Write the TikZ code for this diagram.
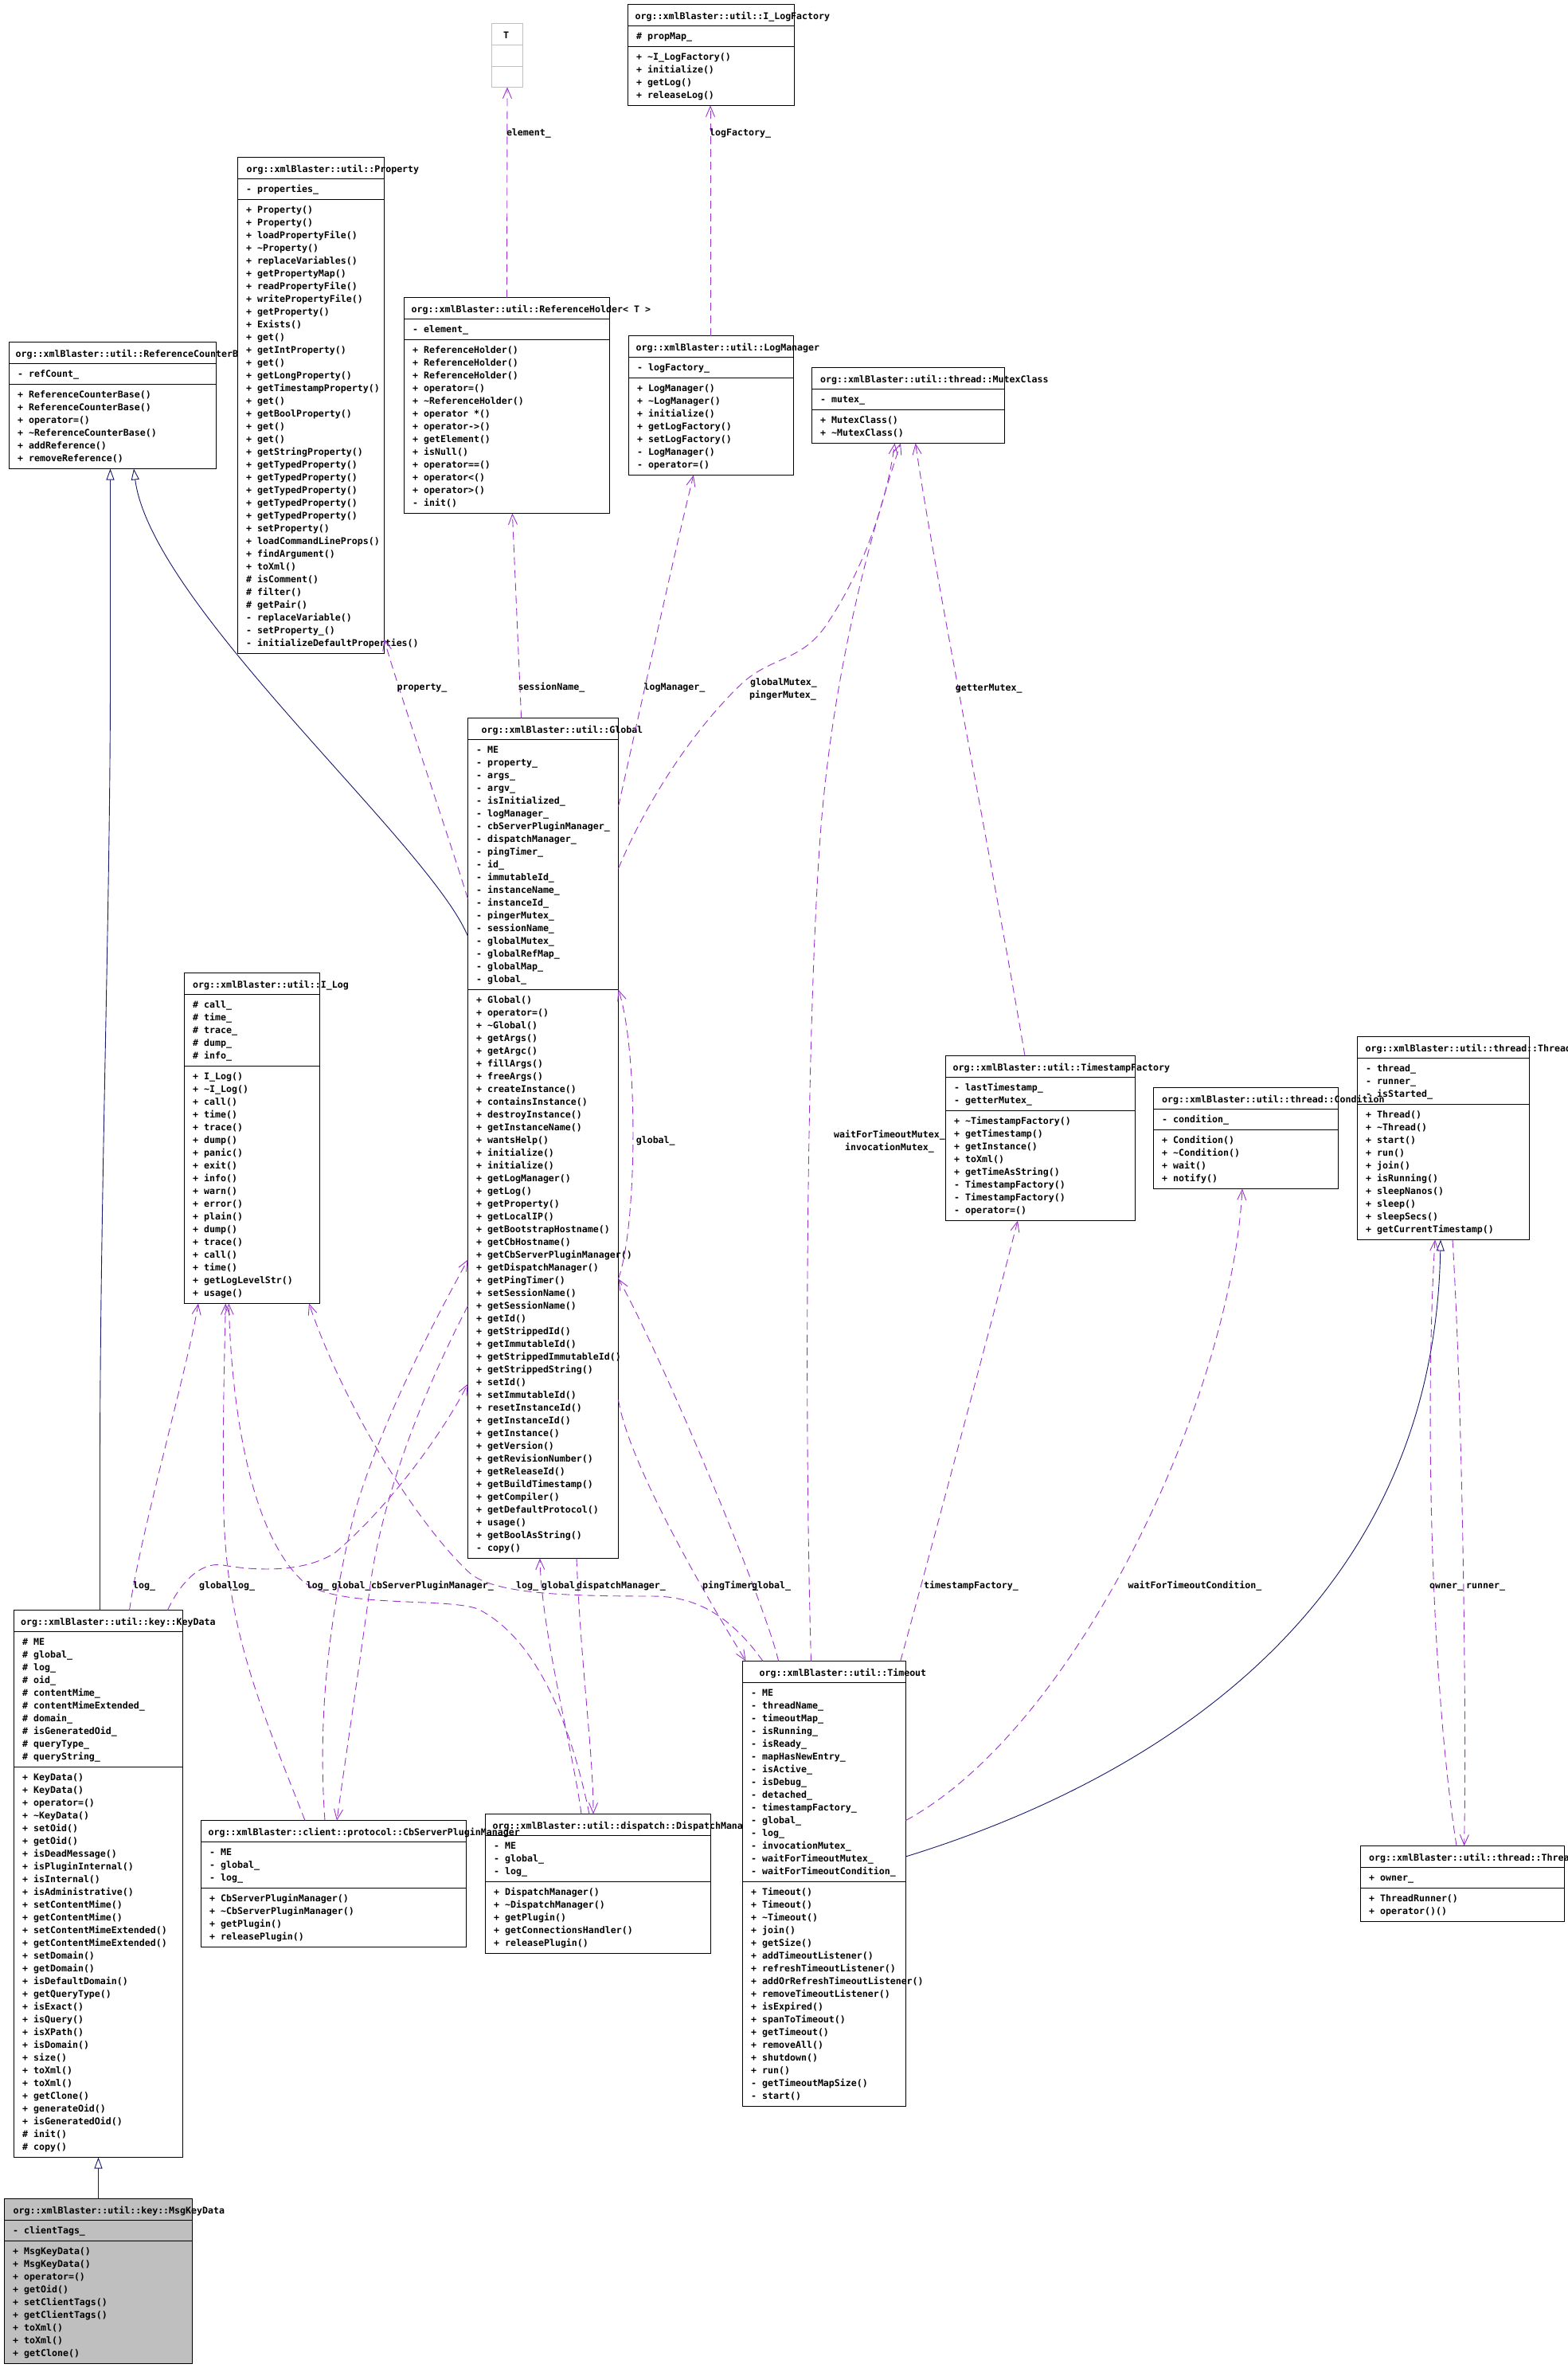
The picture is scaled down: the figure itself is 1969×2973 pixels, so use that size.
\documentclass[tikz,border=0pt]{standalone}
\usepackage{fontspec}
\newfontfamily\umlfont{DejaVu Sans Mono}
\usetikzlibrary{arrows.meta,calc}

\definecolor{edgepurple}{HTML}{9A32CD}
\definecolor{edgenavy}{HTML}{191970}
\definecolor{boxgray}{HTML}{BFBFBF}

\tikzset{
  umlbox/.style={draw=black, line width=1pt, anchor=north west, inner sep=0pt, outer sep=0pt},
  umlrule/.style={draw=black, line width=1pt},
  umltext/.style={font=\umlfont\bfseries\fontsize{11.6}{16}\selectfont, anchor=base west, inner sep=0pt},
  lbl/.style={umltext},
  dep/.style={draw=edgepurple, line width=0.9pt, dash pattern=on 10pt off 6pt,
    -{Straight Barb[length=13pt,width=11pt]}},
  inherit/.style={draw=edgenavy, line width=0.9pt, -{Triangle[fill=white,length=14pt,width=10pt]}}
}

\newcommand{\umlclass}[8][white]{%
  \foreach \m [count=\k] in {#7} {\xdef\nattr{\k}}%
  \foreach \m [count=\k] in {#8} {\xdef\nmeth{\k}}%
  \pgfmathsetmacro{\hattr}{16*\nattr+10}%
  \pgfmathsetmacro{\hmeth}{16*\nmeth+10}%
  \node[umlbox, fill=#1, minimum width=#4, minimum height=27+\hattr+\hmeth] (#2) at #3 {};
  \draw[umlrule] ($(#2.north west)+(0,27)$) -- ($(#2.north east)+(0,27)$);
  \draw[umlrule] ($(#2.north west)+(0,27+\hattr)$) -- ($(#2.north east)+(0,27+\hattr)$);
  \node[umltext] (#2-title) at ($(#2.north west)+(#5,19)$) {#6};
  \foreach \m [count=\k] in {#7}
    \node[umltext] (#2-a\k) at ($(#2.north west)+(10.5,28+16*\k)$) {\m};
  \foreach \m [count=\k] in {#8}
    \node[umltext] (#2-m\k) at ($(#2.north west)+(10.5,28+\hattr+16*\k)$) {\m};
}

\begin{document}
\begin{tikzpicture}[x=1pt,y=-1pt]
  \fill[white] (0,0) rectangle (1969,2973);
  \useasboundingbox (0,0) rectangle (1969,2973);

  \node[umlbox, draw=boxgray, minimum width=39, minimum height=80] (tpl) at (617.5,29.5) {};
  \draw[draw=boxgray, line width=1pt] ($(tpl.north west)+(0,27)$) -- ($(tpl.north east)+(0,27)$)
    ($(tpl.north west)+(0,54)$) -- ($(tpl.north east)+(0,54)$);
  \node[umltext] (tpl-title) at ($(tpl.north west)+(14.5,19)$) {T};

  \umlclass{ilf}{(788.5,5.5)}{209}{9}{org::xmlBlaster::util::I\_LogFactory}{\# propMap\_}
    {+ \textasciitilde I\_LogFactory(), + initialize(), + getLog(), + releaseLog()}
  \umlclass{rcb}{(11.5,429.5)}{260}{8}{org::xmlBlaster::util::ReferenceCounterBase}{- refCount\_}
    {+ ReferenceCounterBase(), + ReferenceCounterBase(), + operator=(), + \textasciitilde ReferenceCounterBase(),
     + addReference(), + removeReference()}
  \umlclass{prop}{(298.5,197.5)}{184}{11}{org::xmlBlaster::util::Property}{- properties\_}
    {+ Property(), + Property(), + loadPropertyFile(), + \textasciitilde Property(), + replaceVariables(),
     + getPropertyMap(), + readPropertyFile(), + writePropertyFile(), + getProperty(), + Exists(), + get(),
     + getIntProperty(), + get(), + getLongProperty(), + getTimestampProperty(), + get(), + getBoolProperty(),
     + get(), + get(), + getStringProperty(), + getTypedProperty(), + getTypedProperty(), + getTypedProperty(),
     + getTypedProperty(), + getTypedProperty(), + setProperty(), + loadCommandLineProps(), + findArgument(),
     + toXml(), \# isComment(), \# filter(), \# getPair(), - replaceVariable(), - setProperty\_(),
     - initializeDefaultProperties()}
  \umlclass{rh}{(507.5,373.5)}{258}{9}{org::xmlBlaster::util::ReferenceHolder< T >}{- element\_}
    {+ ReferenceHolder(), + ReferenceHolder(), + ReferenceHolder(), + operator=(), + \textasciitilde ReferenceHolder(),
     + operator *(), + operator->(), + getElement(), + isNull(), + operator==(), + operator<(), + operator>(),
     - init()}
  \umlclass{lm}{(789.5,421.5)}{207}{9}{org::xmlBlaster::util::LogManager}{- logFactory\_}
    {+ LogManager(), + \textasciitilde LogManager(), + initialize(), + getLogFactory(), + setLogFactory(),
     - LogManager(), - operator=()}
  \umlclass{mc}{(1019.5,461.5)}{242}{10.5}{org::xmlBlaster::util::thread::MutexClass}{- mutex\_}
    {+ MutexClass(), + \textasciitilde MutexClass()}
  \umlclass{glob}{(587.5,901.5)}{189}{17}{org::xmlBlaster::util::Global}
    {- ME, - property\_, - args\_, - argv\_, - isInitialized\_, - logManager\_, - cbServerPluginManager\_,
     - dispatchManager\_, - pingTimer\_, - id\_, - immutableId\_, - instanceName\_, - instanceId\_, - pingerMutex\_,
     - sessionName\_, - globalMutex\_, - globalRefMap\_, - globalMap\_, - global\_}
    {+ Global(), + operator=(), + \textasciitilde Global(), + getArgs(), + getArgc(), + fillArgs(), + freeArgs(),
     + createInstance(), + containsInstance(), + destroyInstance(), + getInstanceName(), + wantsHelp(),
     + initialize(), + initialize(), + getLogManager(), + getLog(), + getProperty(), + getLocalIP(),
     + getBootstrapHostname(), + getCbHostname(), + getCbServerPluginManager(), + getDispatchManager(),
     + getPingTimer(), + setSessionName(), + getSessionName(), + getId(), + getStrippedId(), + getImmutableId(),
     + getStrippedImmutableId(), + getStrippedString(), + setId(), + setImmutableId(), + resetInstanceId(),
     + getInstanceId(), + getInstance(), + getVersion(), + getRevisionNumber(), + getReleaseId(),
     + getBuildTimestamp(), + getCompiler(), + getDefaultProtocol(), + usage(), + getBoolAsString(), - copy()}
  \umlclass{ilog}{(231.5,1221.5)}{170}{10.5}{org::xmlBlaster::util::I\_Log}
    {\# call\_, \# time\_, \# trace\_, \# dump\_, \# info\_}
    {+ I\_Log(), + \textasciitilde I\_Log(), + call(), + time(), + trace(), + dump(), + panic(), + exit(), + info(),
     + warn(), + error(), + plain(), + dump(), + trace(), + call(), + time(), + getLogLevelStr(), + usage()}
  \umlclass{tsf}{(1187.5,1325.5)}{238}{9}{org::xmlBlaster::util::TimestampFactory}
    {- lastTimestamp\_, - getterMutex\_}
    {+ \textasciitilde TimestampFactory(), + getTimestamp(), + getInstance(), + toXml(), + getTimeAsString(),
     - TimestampFactory(), - TimestampFactory(), - operator=()}
  \umlclass{thr}{(1704.5,1301.5)}{216}{10}{org::xmlBlaster::util::thread::Thread}
    {- thread\_, - runner\_, - isStarted\_}
    {+ Thread(), + \textasciitilde Thread(), + start(), + run(), + join(), + isRunning(), + sleepNanos(), + sleep(),
     + sleepSecs(), + getCurrentTimestamp()}
  \umlclass{cond}{(1448.5,1365.5)}{232}{10.5}{org::xmlBlaster::util::thread::Condition}{- condition\_}
    {+ Condition(), + \textasciitilde Condition(), + wait(), + notify()}
  \umlclass{tr}{(1708.5,2317.5)}{256}{10.5}{org::xmlBlaster::util::thread::ThreadRunner}{+ owner\_}
    {+ ThreadRunner(), + operator()()}
  \umlclass{kd}{(17.5,2021.5)}{212}{8.5}{org::xmlBlaster::util::key::KeyData}
    {\# ME, \# global\_, \# log\_, \# oid\_, \# contentMime\_, \# contentMimeExtended\_, \# domain\_,
     \# isGeneratedOid\_, \# queryType\_, \# queryString\_}
    {+ KeyData(), + KeyData(), + operator=(), + \textasciitilde KeyData(), + setOid(), + getOid(), + isDeadMessage(),
     + isPluginInternal(), + isInternal(), + isAdministrative(), + setContentMime(), + getContentMime(),
     + setContentMimeExtended(), + getContentMimeExtended(), + setDomain(), + getDomain(), + isDefaultDomain(),
     + getQueryType(), + isExact(), + isQuery(), + isXPath(), + isDomain(), + size(), + toXml(), + toXml(),
     + getClone(), + generateOid(), + isGeneratedOid(), \# init(), \# copy()}
  \umlclass[boxgray]{mkd}{(5.5,2760.5)}{236}{11}{org::xmlBlaster::util::key::MsgKeyData}{- clientTags\_}
    {+ MsgKeyData(), + MsgKeyData(), + operator=(), + getOid(), + setClientTags(), + getClientTags(),
     + toXml(), + toXml(), + getClone()}
  \umlclass{dm}{(609.5,2277.5)}{283}{9}{org::xmlBlaster::util::dispatch::DispatchManager}
    {- ME, - global\_, - log\_}
    {+ DispatchManager(), + \textasciitilde DispatchManager(), + getPlugin(), + getConnectionsHandler(),
     + releasePlugin()}
  \umlclass{cbs}{(252.5,2285.5)}{333}{9}{org::xmlBlaster::client::protocol::CbServerPluginManager}
    {- ME, - global\_, - log\_}
    {+ CbServerPluginManager(), + \textasciitilde CbServerPluginManager(), + getPlugin(), + releasePlugin()}
  \umlclass{tmo}{(932.5,2085.5)}{205}{21}{org::xmlBlaster::util::Timeout}
    {- ME, - threadName\_, - timeoutMap\_, - isRunning\_, - isReady\_, - mapHasNewEntry\_, - isActive\_,
     - isDebug\_, - detached\_, - timestampFactory\_, - global\_, - log\_, - invocationMutex\_,
     - waitForTimeoutMutex\_, - waitForTimeoutCondition\_}
    {+ Timeout(), + Timeout(), + \textasciitilde Timeout(), + join(), + getSize(), + addTimeoutListener(),
     + refreshTimeoutListener(), + addOrRefreshTimeoutListener(), + removeTimeoutListener(), + isExpired(),
     + spanToTimeout(), + getTimeout(), + removeAll(), + shutdown(), + run(), - getTimeoutMapSize(), - start()}

  \draw[inherit] ($(kd.north west)+(108,0)$) -- (125.5,1850) .. controls (125.5,1500) and (138.5,1150) .. (138.5,850)
    -- ($(rcb.south west)+(127,0)$);
  \draw[inherit] ($(glob.north west)+(0,274)$) .. controls (540,1060) and (190,760) .. ($(rcb.south west)+(156.5,0)$);
  \draw[inherit] ($(mkd.north west)+(118,0)$) -- ($(kd.south west)+(106,0)$);
  \draw[inherit] ($(tmo.north east)+(0,245.4)$) .. controls (1400,2250) and (1800,2050) .. ($(thr.south west)+(104.5,0)$);

  \draw[dep] ($(rh.north west)+(129,0)$) -- (tpl.south);
  \draw[dep] ($(lm.north west)+(102.5,0)$) -- ($(ilf.south west)+(103.5,0)$);
  \draw[dep] ($(glob.north west)+(0,227)$) .. controls (560,1040) and (495,850) .. ($(prop.south east)+(0,-18)$);
  \draw[dep] ($(glob.north west)+(67.1,0)$) -- ($(rh.south west)+(135.9,0)$);
  \draw[dep] ($(glob.north east)+(0,111)$) .. controls (795,930) and (850,680) .. ($(lm.south west)+(81.4,0)$);
  \draw[dep] ($(glob.north east)+(0,189)$) .. controls (810,1010) and (870,915) .. (935,855)
    .. controls (975,822) and (1010,830) .. (1042,778) .. controls (1080,720) and (1112,640) .. ($(mc.south west)+(104.1,0)$);
  \draw[dep] ($(tmo.north west)+(86,0)$) .. controls (1010,1800) and (1012,1300) .. (1030,1050)
    .. controls (1045,850) and (1090,680) .. ($(mc.south west)+(111.5,0)$);
  \draw[dep] ($(tsf.north west)+(99.5,0)$) .. controls (1240,1050) and (1170,700) .. ($(mc.south west)+(130.1,0)$);
  \draw[dep] ($(tmo.north west)+(198.2,0)$) .. controls (1160,1980) and (1240,1680) .. ($(tsf.south west)+(90.5,0)$);
  \draw[dep] ($(tmo.north east)+(0,200)$) .. controls (1350,2170) and (1545,1760) .. ($(cond.south west)+(111.5,0)$);
  \draw[dep] ($(thr.south west)+(119.5,0)$) .. controls (1836,1750) and (1842,2150) .. ($(tr.north west)+(130.1,0)$);
  \draw[dep] ($(tr.north west)+(120.5,0)$) .. controls (1795,2100) and (1790,1750) .. ($(thr.south west)+(97.5,0)$);
  \draw[dep] ($(glob.north east)+(0,704)$) .. controls (800,1540) and (802,1320) .. ($(glob.north east)+(0,341)$);
  \draw[dep] ($(tmo.north west)+(45.1,0)$) .. controls (960,2010) and (830,1700) .. ($(glob.north east)+(0,704)$);
  \draw[dep] ($(glob.north east)+(0,856)$) .. controls (790,1840) and (890,2010) .. ($(tmo.north west)+(4.1,0)$);
  \draw[dep] ($(kd.north west)+(145.1,0)$) .. controls (175,1930) and (235,1720) .. ($(ilog.south west)+(17.5,0)$);
  \draw[dep] ($(cbs.north west)+(130.5,0)$) .. controls (330,2150) and (285,2050) .. (281,1900)
    .. controls (279,1800) and (282,1700) .. ($(ilog.south west)+(51.8,0)$);
  \draw[dep] ($(dm.north west)+(130.5,0)$) .. controls (720,2180) and (680,2060) .. (600,2020)
    .. controls (560,2005) and (420,2020) .. (380,1985) .. controls (310,1920) and (290,1750) .. ($(ilog.south west)+(55.8,0)$);
  \draw[dep] ($(tmo.north west)+(25.5,0)$) .. controls (915,2025) and (870,2004) .. (820,2004)
    .. controls (700,2004) and (620,2000) .. (590,1975) .. controls (520,1910) and (430,1760) .. ($(ilog.south east)+(-13.5,0)$);
  \draw[dep] ($(kd.north west)+(193,0)$) .. controls (225,1990) and (250,1960) .. (280,1965)
    .. controls (320,1972) and (380,1975) .. (420,1950) .. controls (480,1900) and (550,1810) .. ($(glob.north west)+(0,836)$);
  \draw[dep] ($(cbs.north west)+(155.5,0)$) .. controls (398,2150) and (415,2020) .. (445,1900)
    .. controls (480,1780) and (550,1650) .. ($(glob.north west)+(0,680)$);
  \draw[dep] ($(glob.north west)+(0,738)$) .. controls (530,1750) and (480,1880) .. (465,1990)
    .. controls (450,2100) and (435,2200) .. ($(cbs.north west)+(170.5,0)$);
  \draw[dep] ($(dm.north west)+(120.5,0)$) .. controls (720,2200) and (680,2050) .. ($(glob.south west)+(90.5,0)$);
  \draw[dep] ($(glob.south west)+(136.5,0)$) .. controls (730,2100) and (745,2200) .. ($(dm.north west)+(135.5,0)$);

  \node[lbl] (l-element) at (635.8,171) {element\_};
  \node[lbl] (l-logfactory) at (891,171) {logFactory\_};
  \node[lbl] (l-property) at (498.4,866.7) {property\_};
  \node[lbl] (l-session) at (650.3,866.7) {sessionName\_};
  \node[lbl] (l-logmanager) at (808.4,866.7) {logManager\_};
  \node[lbl, anchor=base] (l-globalmutex) at (984,860) {globalMutex\_};
  \node[lbl, anchor=base] (l-pingermutex) at (983,876) {pingerMutex\_};
  \node[lbl] (l-gettermutex) at (1199.6,867) {getterMutex\_};
  \node[lbl] (l-self) at (798.6,1435) {global\_};
  \node[lbl, anchor=base] (l-waitmutex) at (1117,1428) {waitForTimeoutMutex\_};
  \node[lbl, anchor=base] (l-invmutex) at (1117,1444) {invocationMutex\_};
  \node[lbl] (l-kdlog) at (167,1994.5) {log\_};
  \node[lbl] (l-kdglobal) at (250,1994.5) {global\_};
  \node[lbl] (l-cbslog) at (292,1994.5) {log\_};
  \node[lbl] (l-dmlog) at (384.6,1994.5) {log\_};
  \node[lbl] (l-cbsglobal) at (416.5,1994.5) {global\_};
  \node[lbl] (l-cbs) at (466,1994.5) {cbServerPluginManager\_};
  \node[lbl] (l-tmolog) at (648,1994.5) {log\_};
  \node[lbl] (l-dmglobal) at (680,1994.5) {global\_};
  \node[lbl] (l-dm) at (724,1994.5) {dispatchManager\_};
  \node[lbl] (l-ping) at (882,1994.5) {pingTimer\_};
  \node[lbl] (l-tmoglobal) at (944,1994.5) {global\_};
  \node[lbl] (l-tsf) at (1160,1994.5) {timestampFactory\_};
  \node[lbl] (l-cond) at (1416.5,1994.5) {waitForTimeoutCondition\_};
  \node[lbl] (l-owner) at (1795,1994.5) {owner\_};
  \node[lbl] (l-runner) at (1841,1994.5) {runner\_};
\end{tikzpicture}
\end{document}
